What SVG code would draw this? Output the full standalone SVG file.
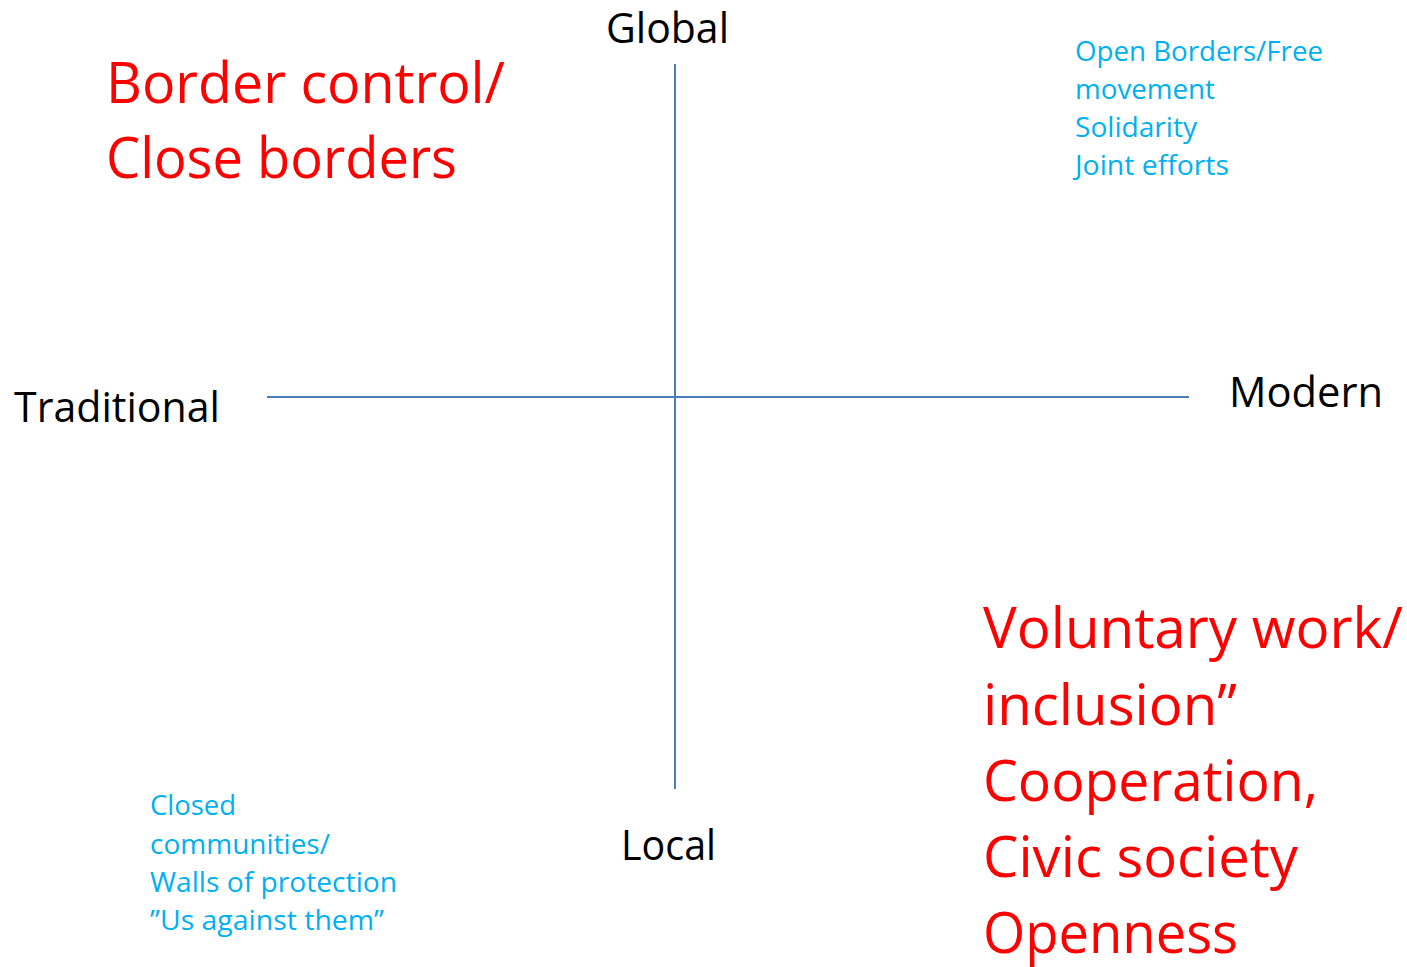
<svg xmlns="http://www.w3.org/2000/svg" width="1407" height="967" viewBox="0 0 1407 967">
<style>
text{font-family:"Open Sans","Noto Sans","Liberation Sans",sans-serif}
.axis{fill:#000000;font-size:42px}
.red{fill:#FF0000;font-size:56px}
.blue{fill:#00B0F0;font-size:27px}
.line{stroke:#4A7EBB;stroke-width:2;fill:none}
</style>
<rect width="1407" height="967" fill="#ffffff"/>
<g id="connectors">
<line class="line" x1="267" y1="397" x2="1189" y2="397"/>
<line class="line" x1="675" y1="64" x2="675" y2="789"/>
</g>
<g id="global"><text class="axis" x="606" y="43" textLength="123" lengthAdjust="spacingAndGlyphs">Global</text></g>
<g id="traditional"><text class="axis" x="14" y="422" textLength="206" lengthAdjust="spacingAndGlyphs">Traditional</text></g>
<g id="modern"><text class="axis" x="1229" y="407" textLength="154" lengthAdjust="spacingAndGlyphs">Modern</text></g>
<g id="local"><text class="axis" x="621" y="860" textLength="95" lengthAdjust="spacingAndGlyphs">Local</text></g>
<g id="border-control">
<text class="red" x="106" y="103" textLength="399" lengthAdjust="spacingAndGlyphs">Border control/</text>
<text class="red" x="106" y="178" textLength="351" lengthAdjust="spacingAndGlyphs">Close borders</text>
</g>
<g id="open-borders">
<text class="blue" x="1075" y="61" textLength="248" lengthAdjust="spacingAndGlyphs">Open Borders/Free</text>
<text class="blue" x="1075" y="99" textLength="140" lengthAdjust="spacingAndGlyphs">movement</text>
<text class="blue" x="1075" y="137" textLength="122" lengthAdjust="spacingAndGlyphs">Solidarity</text>
<text class="blue" x="1075" y="175" textLength="154" lengthAdjust="spacingAndGlyphs">Joint efforts</text>
</g>
<g id="closed-communities">
<text class="blue" x="150" y="815" textLength="86" lengthAdjust="spacingAndGlyphs">Closed</text>
<text class="blue" x="150" y="854" textLength="180" lengthAdjust="spacingAndGlyphs">communities/</text>
<text class="blue" x="150" y="892" textLength="247" lengthAdjust="spacingAndGlyphs">Walls of protection</text>
<text class="blue" x="150" y="930" textLength="234" lengthAdjust="spacingAndGlyphs">”Us against them”</text>
</g>
<g id="voluntary-work">
<text class="red" x="983" y="648" textLength="420" lengthAdjust="spacingAndGlyphs">Voluntary work/</text>
<text class="red" x="983" y="725" textLength="254" lengthAdjust="spacingAndGlyphs">inclusion”</text>
<text class="red" x="983" y="801" textLength="335" lengthAdjust="spacingAndGlyphs">Cooperation,</text>
<text class="red" x="983" y="877" textLength="315" lengthAdjust="spacingAndGlyphs">Civic society</text>
<text class="red" x="983" y="953" textLength="255" lengthAdjust="spacingAndGlyphs">Openness</text>
</g>
</svg>
